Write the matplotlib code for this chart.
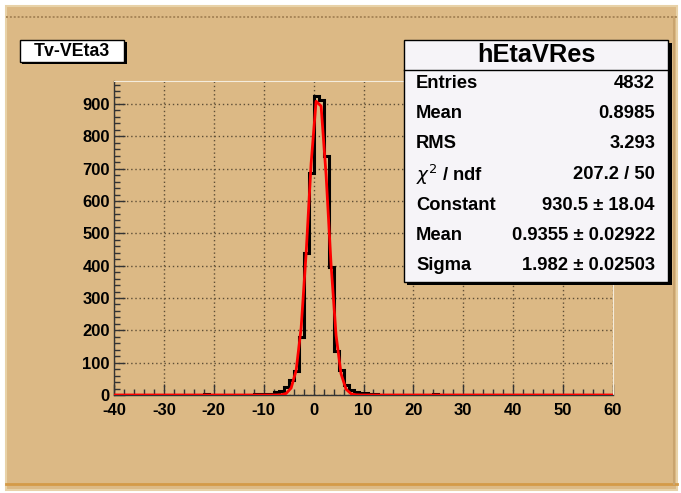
import numpy as np
import matplotlib
matplotlib.use("Agg")
import matplotlib.pyplot as plt
from matplotlib.patches import Rectangle
from matplotlib.ticker import MultipleLocator

plt.rcParams['font.family'] = ['Liberation Sans', 'DejaVu Sans']
plt.rcParams['axes.unicode_minus'] = False

# histogram hEtaVRes : 100 bins from -40 to 60
x_min, x_max, n_bins = -40, 60, 100
filled_lo = [-31, -22, -19, -12, -11, -10, -9, -8, -7, -6, -5, -4, -3, -2, -1,
             0, 1, 2, 3, 4, 5, 6, 7, 8, 9, 10, 11, 12, 24, 33]
filled_n = [1, 2, 1, 2, 2, 3, 4, 10, 12, 25, 45, 75, 180, 440, 685,
            925, 913, 740, 395, 137, 77, 30, 14, 9, 7, 6, 4, 2, 2, 1]

# gaus fit
fit_const, fit_mean, fit_sigma = 930.5, 0.9355, 1.982

title_text = "Tv-VEta3"
stats_name = "hEtaVRes"
stat_labels = ["Entries", "Mean", "RMS", r"$\chi^{2}$ / ndf", "Constant", "Mean", "Sigma"]
stat_values = ["4832", "0.8985", "3.293", "207.2 / 50",
               "930.5 \u00b1 18.04", "0.9355 \u00b1 0.02922", "1.982 \u00b1 0.02503"]

W, H = 681, 493
tan = "#dcb985"
fig = plt.figure(figsize=(W / 100, H / 100), dpi=100, facecolor="white")

def px(x, y):
    return x / W, 1 - y / H

# canvas with bevel
fig.patches.append(Rectangle(px(6, 490), 671 / W, 484 / H, transform=fig.transFigure,
                             facecolor=tan, edgecolor="#e8d2a8", lw=1.5, zorder=-2))
fig.add_artist(plt.Line2D([6 / W, 677 / W], [1 - 17 / H] * 2, color="#a88658", lw=1.4,
                          ls=(0, (1, 1)), zorder=-1))
fig.add_artist(plt.Line2D([6 / W, 677 / W], [1 - 484 / H] * 2, color="#d49a48", lw=2, zorder=-1))
fig.add_artist(plt.Line2D([674 / W] * 2, [1 - 17 / H, 1 - 484 / H], color="#c9a46f", lw=1.5,
                          zorder=-1))

ax = fig.add_axes([114 / W, 1 - 395 / H, 499 / W, 314 / H], zorder=1)
ax.set_facecolor("none")

edges = np.linspace(x_min, x_max, n_bins + 1)
counts = np.zeros(n_bins)
for lo, n in zip(filled_lo, filled_n):
    counts[int(lo - x_min)] = n
centers = 0.5 * (edges[:-1] + edges[1:])

ax.stairs(counts, edges, color="black", lw=2.2, zorder=3)
fx = np.concatenate([[x_min], centers, [x_max]])
fy = fit_const * np.exp(-0.5 * ((fx - fit_mean) / fit_sigma) ** 2)
ax.plot(fx, fy, color="red", lw=2, zorder=4)

ax.set_xlim(x_min, x_max)
ax.set_ylim(0, 971)
ax.xaxis.set_major_locator(MultipleLocator(10))
ax.xaxis.set_minor_locator(MultipleLocator(2))
ax.yaxis.set_major_locator(MultipleLocator(100))
ax.yaxis.set_minor_locator(MultipleLocator(20))
ax.tick_params(which="both", direction="in", top=False, right=False, width=1, color="#333333")
ax.tick_params(which="major", length=8, labelsize=12)
ax.tick_params(which="minor", length=4)
ax.tick_params(axis="x", pad=6)
ax.tick_params(axis="y", pad=3)
for lab in ax.get_xticklabels() + ax.get_yticklabels():
    lab.set_fontweight("bold")
ax.grid(True, which="major", color="#5e4e36", lw=1.0, ls=(0, (1, 2)))
for s in ["top", "right"]:
    ax.spines[s].set_color("#f4ecdc")
    ax.spines[s].set_linestyle((0, (1, 1)))
for s in ["left", "bottom"]:
    ax.spines[s].set_color("#333333")
    ax.spines[s].set_linewidth(1)

# title box
fig.patches.append(Rectangle(px(22, 64), 105 / W, 22 / H, transform=fig.transFigure,
                             facecolor="black", zorder=5))
fig.patches.append(Rectangle(px(20, 62), 104 / W, 22 / H, transform=fig.transFigure,
                             facecolor="white", edgecolor="black", lw=1, zorder=6))
fig.text(*px(72, 51), title_text, ha="center", va="center", fontsize=12.8,
         fontweight="bold", zorder=7)

# stats box
fig.patches.append(Rectangle(px(407, 285), 265 / W, 242 / H, transform=fig.transFigure,
                             facecolor="black", zorder=5))
fig.patches.append(Rectangle(px(404, 282), 264 / W, 242 / H, transform=fig.transFigure,
                             facecolor="#f6f4f8", edgecolor="black", lw=1, zorder=6))
fig.add_artist(plt.Line2D([404 / W, 668 / W], [1 - 70 / H] * 2, color="black", lw=1, zorder=7))
fig.text(*px(536, 55), stats_name, ha="center", va="center", fontsize=18.3,
         fontweight="bold", zorder=7)
for i, (lab, val) in enumerate(zip(stat_labels, stat_values)):
    y = 83 + i * 30.5
    fig.text(*px(416, y), lab, ha="left", va="center", fontsize=13.2,
             fontweight="bold", zorder=7)
    fig.text(*px(655, y), val, ha="right", va="center", fontsize=13.2,
             fontweight="bold", zorder=7)

fig.savefig("out.png", dpi=100, facecolor="white")
